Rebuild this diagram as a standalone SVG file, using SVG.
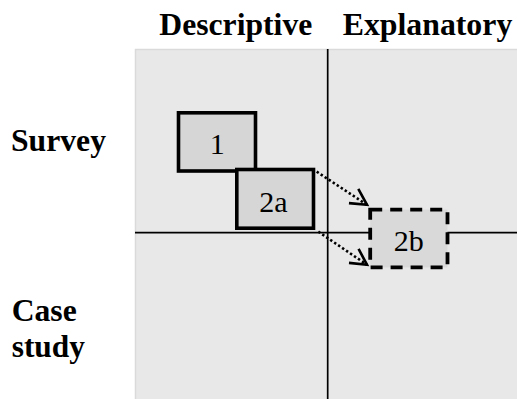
<svg xmlns="http://www.w3.org/2000/svg" width="517" height="399" viewBox="0 0 517 399">
  <defs>
    <style>
      .hdr { font-family: "Liberation Serif", "Times New Roman", serif; font-weight: bold; font-size: 31px; fill: #000; }
      .lbl { font-family: "Liberation Serif", "Times New Roman", serif; font-size: 30px; fill: #000; text-anchor: middle; }
      .box { fill: #d6d6d6; stroke: #000; stroke-width: 3.6; }
      .boxd { fill: #d9d9d9; stroke: #000; stroke-width: 3.8; stroke-dasharray: 12 8; }
      .axis { stroke: #000; stroke-width: 1.7; fill: none; }
      .conn { stroke: #000; stroke-width: 2.6; stroke-dasharray: 2.4 2.4; fill: none; }
      .head { stroke: #000; stroke-width: 2.6; fill: none; }
    </style>
    <marker id="arrow" markerUnits="userSpaceOnUse" markerWidth="24" markerHeight="24" refX="18" refY="9" orient="auto" viewBox="0 0 24 18">
      <path class="head" d="M2,0.5 L18,9 L2,17.5"/>
    </marker>
  </defs>
  <rect width="517" height="399" fill="#ffffff"/>
  <rect x="135.5" y="49.5" width="390" height="360" fill="#e8e8e8" stroke="#dadada" stroke-width="1.5"/>
  <g id="axes">
    <line class="axis" x1="327.7" y1="49" x2="327.7" y2="399"/>
    <line class="axis" x1="135" y1="232.7" x2="517" y2="232.7"/>
  </g>
  <text class="hdr" x="159.3" y="35" textLength="153" lengthAdjust="spacingAndGlyphs">Descriptive</text>
  <text class="hdr" x="342.7" y="35" textLength="169.6" lengthAdjust="spacingAndGlyphs">Explanatory</text>
  <text class="hdr" x="11" y="150.5" textLength="95" lengthAdjust="spacingAndGlyphs">Survey</text>
  <text class="hdr" x="11.7" y="320.7" textLength="65" lengthAdjust="spacingAndGlyphs">Case</text>
  <text class="hdr" x="11.7" y="357" textLength="73.3" lengthAdjust="spacingAndGlyphs">study</text>
  <g id="connectors">
    <line class="conn" x1="316.7" y1="171.7" x2="367" y2="204.8" marker-end="url(#arrow)"/>
    <line class="conn" x1="318.3" y1="231.7" x2="367" y2="264.8" marker-end="url(#arrow)"/>
  </g>
  <g id="node-1">
    <rect class="box" x="178.5" y="112.8" width="77" height="58.2"/>
    <text class="lbl" x="217.3" y="154">1</text>
  </g>
  <g id="node-2a">
    <rect class="box" x="236.8" y="169.5" width="76.7" height="58.7"/>
    <text class="lbl" x="273.5" y="211.7">2a</text>
  </g>
  <g id="node-2b">
    <rect class="boxd" x="370.2" y="209.6" width="77.3" height="57.8"/>
    <text class="lbl" x="408.7" y="250.5">2b</text>
  </g>
</svg>
